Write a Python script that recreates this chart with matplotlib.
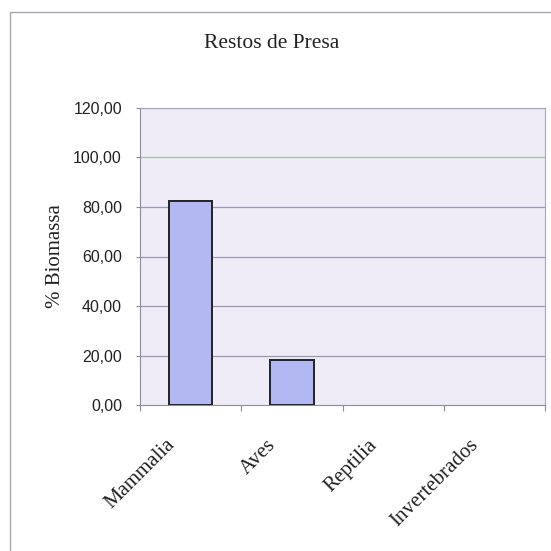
import matplotlib
matplotlib.use("Agg")
import matplotlib.pyplot as plt
import matplotlib.patches as patches
import matplotlib.transforms as mtransforms
import numpy as np

categorias = ["Mammalia", "Aves", "Reptilia", "Invertebrados"]
biomassa = [82.4, 18.3, 0.0, 0.0]
yticks = [0, 20, 40, 60, 80, 100, 120]
ylabels = ["0,00", "20,00", "40,00", "60,00", "80,00", "100,00", "120,00"]

serif = "Liberation Serif"
sans = "Liberation Sans"

fig = plt.figure(figsize=(5.51, 5.51), dpi=100)
fig.patch.set_facecolor("white")

# marco exterior del grafico
fig.patches.append(patches.Rectangle((10 / 551, -0.05), 1.2, 0.05 + 539 / 551,
                                     transform=fig.transFigure, fill=False,
                                     edgecolor="#a8a8b0", linewidth=1.0))

ax = fig.add_axes([140 / 551, 146 / 551, 405 / 551, 297 / 551])
ax.set_facecolor("#efecf8")

x = np.arange(len(categorias))
# las barras con valor cero no se dibujan con borde
bordes = [1.4 if v > 0 else 0 for v in biomassa]
ax.bar(x, biomassa, width=0.43, color="#b2b8f2", edgecolor="#222222",
       linewidth=bordes, zorder=3)

ax.set_xlim(-0.5, len(categorias) - 0.5)
ax.set_ylim(0, 120)

# lineas de division
for v in yticks[1:]:
    c = "#a4c49c" if v == 100 else "#9c98b4"
    ax.axhline(v, color=c, linewidth=0.9, zorder=1)

ax.set_yticks(yticks)
ax.set_yticklabels(ylabels, fontfamily=sans, fontsize=11.5, color="#222222")
ax.tick_params(axis="y", length=3, pad=10, color="#8c8c9c")

ax.set_xticks(np.arange(len(categorias) + 1) - 0.5)
ax.set_xticklabels([])
ax.tick_params(axis="x", which="major", length=4, color="#8c8c9c")
ax.set_xticks(x, minor=True)
ax.set_xticklabels(categorias, minor=True, rotation=45, ha="right", va="top",
                   fontfamily=serif, fontsize=15, color="#222222")
ax.tick_params(axis="x", which="minor", length=0, pad=22)
shift = mtransforms.ScaledTranslation(-12 / 100, 0, fig.dpi_scale_trans)
for lbl in ax.get_xticklabels(minor=True):
    lbl.set_transform(lbl.get_transform() + shift)

for s in ["left", "bottom"]:
    ax.spines[s].set_color("#8c8c9c")
for s in ["top", "right"]:
    ax.spines[s].set_color("#a8a4c0")

ax.set_ylabel("% Biomassa", fontfamily=serif, fontsize=15, color="#222222",
              labelpad=6)

fig.text(272 / 551, 1 - 43 / 551, "Restos de Presa", ha="center", va="center",
         fontfamily=serif, fontsize=15.5, color="#222222")

fig.savefig("out.png", dpi=100)
